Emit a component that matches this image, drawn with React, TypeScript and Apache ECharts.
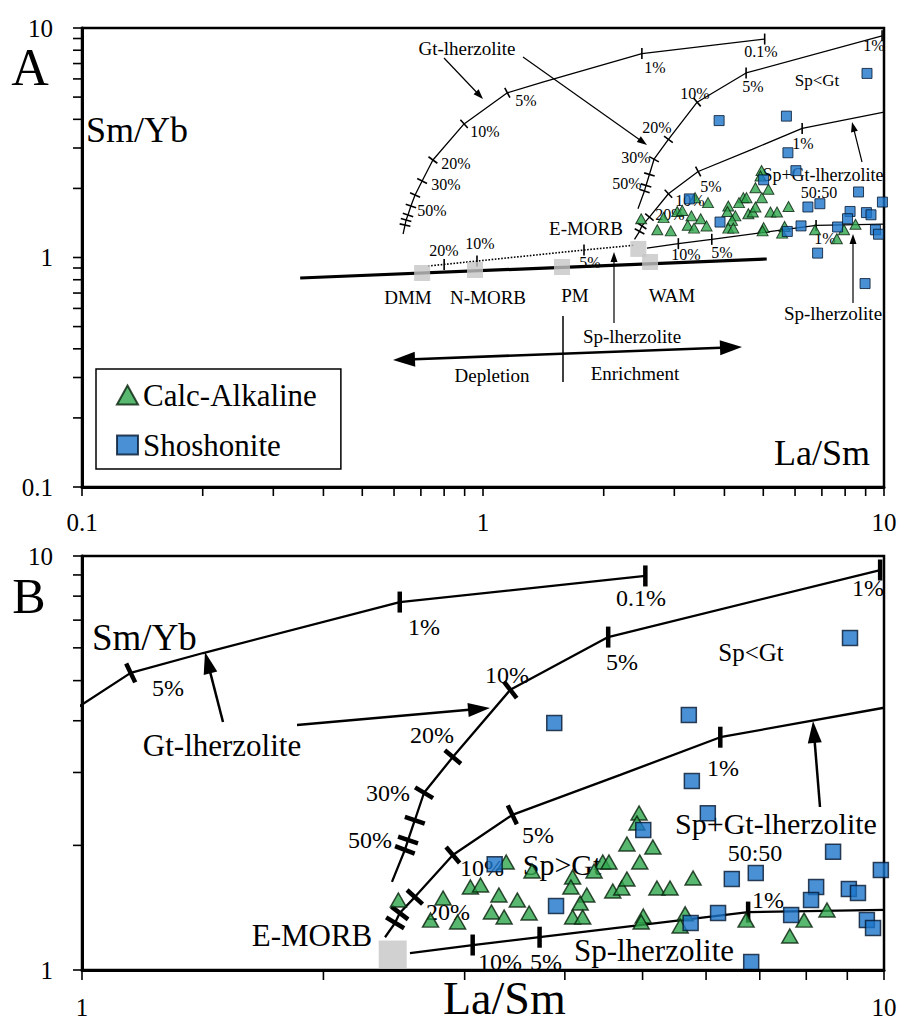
import React, { useEffect, useRef } from "react";
import * as echarts from "echarts";

const FONT = '"Liberation Serif", "Times New Roman", Times, serif';

// ---------------- data ----------------
// Calc-Alkaline samples (triangles)
const CA_LASM = [2.48, 3.38, 3.64, 2.82, 2.72, 2.94, 3.05, 3.14, 3.31, 3.49, 3.24, 3.36, 3.61, 4.09, 4.07, 4.26, 4.18, 4.09, 4.21, 4.46, 4.54, 4.35, 4.59, 4.71, 4.78, 4.78, 4.96, 4.95, 4.92, 5.15, 5.21, 5.41, 5.78, 5.01, 4.98, 5.65, 5.57, 6.73, 7.95, 7.63, 8.49];
const CA_SMYB = [1.476, 1.823, 1.734, 1.492, 1.32, 1.306, 1.587, 1.604, 1.518, 1.476, 1.381, 1.343, 1.373, 1.677, 1.587, 1.518, 1.451, 1.343, 1.343, 1.823, 1.823, 1.734, 1.552, 1.578, 2.015, 1.659, 1.823, 2.394, 2.265, 1.982, 1.578, 1.578, 1.668, 1.35, 1.306, 1.366, 1.277, 1.32, 1.32, 1.208, 1.396];
// Shoshonite samples (squares)
const SH_LASM = [9.07, 3.88, 5.71, 5.76, 6.03, 5.01, 8.64, 6.46, 6.92, 9.91, 8.23, 8.11, 9.04, 9.28, 6.21, 7.66, 5.74, 9.52, 9.69, 6.83, 3.27, 3.9, 8.97];
const SH_SMYB = [6.34, 3.95, 4.13, 2.86, 2.39, 2.18, 1.93, 1.66, 1.715, 1.744, 1.587, 1.476, 1.569, 1.535, 1.373, 1.358, 1.299, 1.32, 1.263, 1.045, 1.8, 1.427, 0.77];
// Mantle source compositions (grey squares)
const SOURCE_NAMES = ["DMM", "N-MORB", "PM", "WAM", "E-MORB"];
const SOURCE_LASM = [0.705, 0.955, 1.574, 2.61, 2.44];
const SOURCE_SMYB = [0.856, 0.882, 0.909, 0.956, 1.09];

// Melting curves [La/Sm, Sm/Yb]
const CURVE_GT = [[0.632, 1.266], [0.639, 1.385], [0.643, 1.457], [0.65, 1.532], [0.661, 1.677], [0.677, 1.872], [0.705, 2.154], [0.75, 2.66], [0.897, 3.82], [1.15, 5.22], [1.416, 5.83], [2.49, 7.74], [5.04, 8.95]];
const CURVE_GT_TICKS = [1, 2, 3, 4, 5, 6, 7, 8, 9, 11, 12];
const CURVE_NM = [[2.435, 1.632], [2.527, 1.95], [2.55, 2.06], [2.6, 2.3], [2.67, 2.68], [2.9, 3.27], [3.42, 4.75], [4.53, 6.37], [9.89, 9.25]];
const CURVE_NM_TICKS = [1, 2, 3, 4, 5, 6, 7, 8];
const CURVE_MIX = [[2.387, 1.2], [2.457, 1.3], [2.49, 1.373], [2.6, 1.5], [2.9, 1.896], [3.44, 2.37], [4.69, 2.96], [6.25, 3.65], [10, 4.3]];
const CURVE_MIX_TICKS = [1, 2, 3, 4, 5, 7];
const CURVE_SP = [[2.564, 1.099], [3.07, 1.149], [3.72, 1.2], [6.77, 1.38], [10, 1.397]];
const CURVE_SP_TICKS = [1, 2, 3];
const MANTLE = [[0.35, 0.814], [5.1, 0.985]];
const DOTTED = [[0.729, 0.918], [0.8, 0.933], [0.966, 0.965], [1.786, 1.078], [2.37, 1.13]];
const DOTTED_TICKS = [1, 2, 3];

// Axis tick values
const TICKS_A = [0.1, 0.2, 0.3, 0.4, 0.5, 0.6, 0.7, 0.8, 0.9, 1, 2, 3, 4, 5, 6, 7, 8, 9, 10];
const TICKS_B = [1, 2, 3, 4, 5, 6, 7, 8, 9, 10];

const CURVE_LIST = [CURVE_GT, CURVE_NM, CURVE_MIX, CURVE_SP, DOTTED];
const TICK_LIST = [CURVE_GT_TICKS, CURVE_NM_TICKS, CURVE_MIX_TICKS, CURVE_SP_TICKS, DOTTED_TICKS];

const tickData = (ids: number[]) =>
  ids.flatMap((ci) => TICK_LIST[ci].map((i) => [CURVE_LIST[ci][i][0], CURVE_LIST[ci][i][1], ci, i]));

const labelFmt = (v: number) => String(parseFloat(Number(v).toPrecision(6)));

function makeCurveTick(L: number, w: number) {
  return (params: any, api: any) => {
    const ci = api.value(2);
    const i = api.value(3);
    const c = CURVE_LIST[ci];
    const p = api.coord(c[i]);
    const prev = api.coord(c[Math.max(0, i - 1)]);
    const next = api.coord(c[Math.min(c.length - 1, i + 1)]);
    let dx = next[0] - prev[0];
    let dy = next[1] - prev[1];
    const len = Math.hypot(dx, dy) || 1;
    dx /= len;
    dy /= len;
    const ang = (Math.abs(Math.atan2(dy, dx)) * 180) / Math.PI;
    const a = Math.min(ang, 180 - ang);
    let nx = 0, ny = 1;
    if (a >= 20) { nx = -dy; ny = dx; }
    const h = L / 2;
    return {
      type: "line",
      shape: { x1: p[0] - nx * h, y1: p[1] - ny * h, x2: p[0] + nx * h, y2: p[1] + ny * h },
      style: { stroke: "#000", lineWidth: w },
    };
  };
}

function xTickRender(len: number) {
  return (params: any, api: any) => {
    const p = api.coord([api.value(0), api.value(1)]);
    return { type: "line", shape: { x1: p[0], y1: p[1], x2: p[0], y2: p[1] + len }, style: { stroke: "#000", lineWidth: 1.6 } };
  };
}
function yTickRender(len: number) {
  return (params: any, api: any) => {
    const p = api.coord([api.value(0), api.value(1)]);
    return { type: "line", shape: { x1: p[0] - len, y1: p[1], x2: p[0], y2: p[1] }, style: { stroke: "#000", lineWidth: 1.6 } };
  };
}

function txt(text: string, x: number, y: number, size: number, align: string = "center") {
  return {
    type: "text",
    x,
    y,
    style: {
      text,
      font: `${size}px ${FONT}`,
      fill: "#000",
      align,
      verticalAlign: "middle",
      textAlign: align,
      textVerticalAlign: "middle",
    },
  };
}

function head(x1: number, y1: number, x2: number, y2: number, hl: number, hw: number) {
  const dx = x2 - x1, dy = y2 - y1;
  const len = Math.hypot(dx, dy);
  const ux = dx / len, uy = dy / len;
  const bx = x2 - ux * hl, by = y2 - uy * hl;
  const nx = -uy, ny = ux;
  return {
    base: [bx + ux, by + uy],
    poly: {
      type: "polygon",
      shape: { points: [[x2, y2], [bx + (nx * hw) / 2, by + (ny * hw) / 2], [bx - (nx * hw) / 2, by - (ny * hw) / 2]] },
      style: { fill: "#000" },
    },
  };
}

function arrow(x1: number, y1: number, x2: number, y2: number, lw: number, hl: number, hw: number) {
  const h = head(x1, y1, x2, y2, hl, hw);
  return [
    { type: "line", shape: { x1, y1, x2: h.base[0], y2: h.base[1] }, style: { stroke: "#000", lineWidth: lw } },
    h.poly,
  ];
}

function doubleArrow(x1: number, y1: number, x2: number, y2: number, lw: number, hl: number, hw: number) {
  const h1 = head(x2, y2, x1, y1, hl, hw);
  const h2 = head(x1, y1, x2, y2, hl, hw);
  return [
    { type: "line", shape: { x1: h1.base[0], y1: h1.base[1], x2: h2.base[0], y2: h2.base[1] }, style: { stroke: "#000", lineWidth: lw } },
    h1.poly,
    h2.poly,
  ];
}

function axisCfg(grid: number, min: number, max: number, margin: number) {
  return {
    gridIndex: grid,
    type: "log",
    logBase: 10,
    min,
    max,
    z: 5,
    axisLine: { show: true, onZero: false, lineStyle: { color: "#000", width: 3 } },
    axisTick: { show: false },
    minorTick: { show: false },
    splitLine: { show: false },
    minorSplitLine: { show: false },
    axisPointer: { show: false },
    axisLabel: {
      show: true,
      margin,
      color: "#000",
      fontFamily: FONT,
      fontSize: 25,
      formatter: labelFmt,
      showMinLabel: true,
      showMaxLabel: true,
    },
  };
}

export default function App() {
  const ref = useRef<HTMLDivElement>(null);

  useEffect(() => {
    if (!ref.current) return;
    const chart = echarts.init(ref.current, undefined, { renderer: "svg" });

    const caData = CA_LASM.map((x, i) => [x, CA_SMYB[i]]);
    const shData = SH_LASM.map((x, i) => [x, SH_SMYB[i]]);
    const srcData = SOURCE_LASM.map((x, i) => ({ name: SOURCE_NAMES[i], value: [x, SOURCE_SMYB[i]] }));

    const CA_COLOR = "#2ea64c";
    const SH_COLOR = "#1b74c9";

    const line = (data: number[][], g: number, width: number, type: string = "solid") => ({
      type: "line",
      xAxisIndex: g,
      yAxisIndex: g,
      data,
      symbol: "none",
      showSymbol: false,
      silent: true,
      lineStyle: { color: "#000", width, type },
      z: 2,
    });

    const annotA = [
      txt("A", 30, 67, 52),
      txt("Sm/Yb", 86, 130, 36, "left"),
      txt("La/Sm", 870, 453, 36, "right"),
      txt("Gt-lherzolite", 467, 48, 19),
      txt("0.1%", 761, 51, 16), txt("1%", 655, 67, 16), txt("5%", 526, 100, 16), txt("10%", 485, 131, 16),
      txt("20%", 456, 163, 16), txt("30%", 446, 184, 16), txt("50%", 432, 210, 16),
      txt("1%", 874, 45, 16), txt("5%", 753, 86, 16), txt("10%", 695, 93, 16), txt("20%", 657, 127, 16),
      txt("30%", 636, 157, 16), txt("50%", 627, 183, 16),
      txt("Sp<Gt", 817, 80, 17),
      txt("1%", 803, 143, 16), txt("5%", 711, 186, 16), txt("10%", 690, 200, 16), txt("20%", 670, 214, 16),
      txt("Sp+Gt-lherzolite", 823, 175, 18), txt("50:50", 819, 192, 16),
      txt("E-MORB", 586, 228, 19),
      txt("10%", 686, 254, 16), txt("5%", 722, 252, 16), txt("1%", 825, 238, 16),
      txt("20%", 444, 250, 16), txt("10%", 480, 243, 16), txt("5%", 590, 262, 16),
      txt("DMM", 408, 297, 19), txt("N-MORB", 488, 297, 19), txt("PM", 575, 295, 19), txt("WAM", 672, 295, 19),
      txt("Sp-lherzolite", 632, 336, 19), txt("Sp-lherzolite", 833, 313, 19),
      txt("Depletion", 492, 375, 19), txt("Enrichment", 635, 373, 19),
      ...arrow(444, 58, 483, 99, 1.2, 10, 7),
      ...arrow(523, 57, 647, 145, 1.2, 10, 7),
      ...arrow(862, 162, 852, 122, 1.2, 10, 7),
      ...arrow(614, 323, 614, 252, 1.2, 10, 7),
      ...arrow(853, 303, 853, 234, 1.2, 10, 7),
      ...doubleArrow(393, 360, 742, 347, 2.6, 22, 15),
      { type: "line", shape: { x1: 563, y1: 316, x2: 563, y2: 382 }, style: { stroke: "#000", lineWidth: 1.5 } },
    ];

    const annotB = [
      txt("B", 29, 596, 50),
      txt("Sm/Yb", 92, 637, 37, "left"),
      txt("La/Sm", 443, 998, 46, "left"),
      txt("Gt-lherzolite", 222, 745, 31),
      txt("5%", 168, 688, 24), txt("1%", 424, 627, 24), txt("0.1%", 641, 598, 24),
      txt("1%", 868, 588, 24), txt("5%", 622, 662, 24), txt("10%", 507, 675, 24), txt("20%", 432, 735, 24),
      txt("30%", 388, 793, 24), txt("50%", 370, 840, 24),
      txt("Sp<Gt", 751, 652, 25),
      txt("1%", 723, 768, 24), txt("5%", 538, 835, 24), txt("10%", 482, 868, 24), txt("20%", 448, 912, 24),
      txt("Sp+Gt-lherzolite", 776, 823, 30), txt("50:50", 755, 853, 24),
      txt("Sp>Gt", 562, 864, 30),
      txt("10%", 500, 962, 24), txt("5%", 546, 962, 24), txt("1%", 768, 900, 24),
      txt("Sp-lherzolite", 654, 950, 31),
      txt("E-MORB", 312, 935, 31),
      ...arrow(223, 722, 205, 652, 2.5, 22, 14),
      ...arrow(297, 725, 490, 708, 2.5, 22, 14),
      ...arrow(820, 807, 813, 721, 2.5, 22, 14),
    ];

    const option: any = {
      animation: false,
      backgroundColor: "#fff",
      textStyle: { fontFamily: FONT },
      legend: {
        left: 96,
        top: 369,
        orient: "vertical",
        padding: [10, 24, 8, 20],
        itemGap: 18,
        itemWidth: 21,
        itemHeight: 19,
        backgroundColor: "#fff",
        borderColor: "#000",
        borderWidth: 1.5,
        borderRadius: 0,
        selectedMode: false,
        textStyle: { fontFamily: FONT, fontSize: 31, color: "#000", lineHeight: 32 },
        data: [
          { name: "Calc-Alkaline", icon: "triangle" },
          { name: "Shoshonite", icon: "rect" },
        ],
      },
      grid: [
        { left: 82, top: 28, width: 802, height: 459, show: true, borderColor: "#000", borderWidth: 2.5, backgroundColor: "transparent", containLabel: false, outerBoundsMode: "none" },
        { left: 82, top: 556, width: 802, height: 414, show: true, borderColor: "#000", borderWidth: 2.5, backgroundColor: "transparent", containLabel: false, outerBoundsMode: "none" },
      ],
      xAxis: [axisCfg(0, 0.1, 10, 23), axisCfg(1, 1, 10, 25)],
      yAxis: [axisCfg(0, 0.1, 10, 29), axisCfg(1, 1, 10, 29)],
      graphic: { elements: [...annotA, ...annotB] },
      series: [
        // panel A curves
        line(CURVE_GT, 0, 1.3),
        line(CURVE_NM, 0, 1.3),
        line(CURVE_MIX, 0, 1.3),
        line(CURVE_SP, 0, 1.3),
        line(MANTLE, 0, 3.2),
        line(DOTTED, 0, 1.6, "dotted"),
        // panel B curves
        line(CURVE_GT, 1, 2.3),
        line(CURVE_NM, 1, 2.3),
        line(CURVE_MIX, 1, 2.3),
        line(CURVE_SP, 1, 2.3),
        // melting-degree tick marks
        {
          type: "custom", xAxisIndex: 0, yAxisIndex: 0, clip: true, silent: true,
          data: tickData([0, 1, 2, 3, 4]), renderItem: makeCurveTick(11, 1.6), z: 3,
        },
        {
          type: "custom", xAxisIndex: 1, yAxisIndex: 1, clip: true, silent: true,
          data: tickData([0, 1, 2, 3]), renderItem: makeCurveTick(21, 4.5), z: 3,
        },
        // axis ticks
        { type: "custom", xAxisIndex: 0, yAxisIndex: 0, clip: false, silent: true, data: TICKS_A.map((v) => [v, 0.1]), renderItem: xTickRender(9), z: 5 },
        { type: "custom", xAxisIndex: 0, yAxisIndex: 0, clip: false, silent: true, data: TICKS_A.map((v) => [0.1, v]), renderItem: yTickRender(9), z: 5 },
        { type: "custom", xAxisIndex: 1, yAxisIndex: 1, clip: false, silent: true, data: TICKS_B.map((v) => [v, 1]), renderItem: xTickRender(10), z: 5 },
        { type: "custom", xAxisIndex: 1, yAxisIndex: 1, clip: false, silent: true, data: TICKS_B.map((v) => [1, v]), renderItem: yTickRender(9), z: 5 },
        // source compositions
        {
          type: "scatter", name: "Sources A", xAxisIndex: 0, yAxisIndex: 0, silent: true, clip: true,
          data: srcData, symbol: "rect", symbolSize: 16, itemStyle: { color: "#c6c6c6" }, z: 3,
        },
        {
          type: "scatter", name: "Sources B", xAxisIndex: 1, yAxisIndex: 1, silent: true, clip: true,
          data: srcData, symbol: "rect", symbolSize: 28, itemStyle: { color: "#c6c6c6" }, z: 3,
        },
        // samples panel A
        {
          type: "scatter", name: "Calc-Alkaline", xAxisIndex: 0, yAxisIndex: 0, silent: true, clip: true,
          data: caData, symbol: "triangle", symbolSize: [11, 10],
          itemStyle: { color: CA_COLOR, borderColor: "#07200b", borderWidth: 1 }, z: 4,
        },
        {
          type: "scatter", name: "Shoshonite", xAxisIndex: 0, yAxisIndex: 0, silent: true, clip: true,
          data: shData, symbol: "rect", symbolSize: 10,
          itemStyle: { color: SH_COLOR, borderColor: "#05162e", borderWidth: 1 }, z: 4,
        },
        // samples panel B
        {
          type: "scatter", name: "Calc-Alkaline", xAxisIndex: 1, yAxisIndex: 1, silent: true, clip: true,
          data: caData, symbol: "triangle", symbolSize: [16, 14],
          itemStyle: { color: CA_COLOR, borderColor: "#07200b", borderWidth: 1.5 }, z: 4,
        },
        {
          type: "scatter", name: "Shoshonite", xAxisIndex: 1, yAxisIndex: 1, silent: true, clip: true,
          data: shData, symbol: "rect", symbolSize: 15,
          itemStyle: { color: SH_COLOR, borderColor: "#05162e", borderWidth: 1.5 }, z: 4,
        },
      ],
    };

    chart.setOption(option);
    return () => chart.dispose();
  }, []);

  return (
    <div
      ref={ref}
      style={{ position: "fixed", left: 0, top: 0, width: 903, height: 1024, background: "#fff" }}
    />
  );
}
